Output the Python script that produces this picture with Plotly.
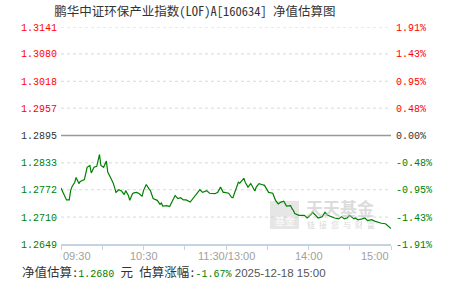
import plotly.graph_objects as go

# ---- data ----
minutes = [0, 4, 6, 7, 8, 10, 11, 13, 14, 17, 19, 21, 22, 24, 26, 28, 29, 31, 33, 34,
           36, 38, 40, 42, 44, 46, 47, 49, 50, 52, 53, 55, 57, 59, 60, 62, 64, 65, 67, 70,
           72, 73, 74, 77, 79, 81, 83, 85, 87, 89, 91, 94, 96, 99, 101, 103, 106, 108, 112, 114,
           116, 118, 119, 122, 124, 125, 127, 129, 130, 133, 134, 136, 138, 141, 142, 144, 146, 148, 151, 154,
           156, 158, 160, 162, 164, 167, 168, 169, 170, 173, 176, 177, 179, 182, 183, 185, 187, 190, 192, 194,
           197, 199, 202, 204, 206, 208, 210, 213, 214, 216, 219, 221, 223, 226, 228, 231, 233, 236, 238, 240]
nav = [1.2776, 1.2749, 1.2749, 1.2770, 1.2779, 1.2789, 1.2800, 1.2786, 1.2791, 1.2795,
       1.2823, 1.2827, 1.2810, 1.2823, 1.2825, 1.2852, 1.2827, 1.2823, 1.2837, 1.2812,
       1.2800, 1.2787, 1.2766, 1.2772, 1.2769, 1.2761, 1.2770, 1.2759, 1.2748, 1.2763,
       1.2765, 1.2766, 1.2763, 1.2757, 1.2770, 1.2784, 1.2774, 1.2770, 1.2752, 1.2748,
       1.2739, 1.2742, 1.2735, 1.2736, 1.2734, 1.2746, 1.2759, 1.2752, 1.2754, 1.2749,
       1.2749, 1.2744, 1.2752, 1.2763, 1.2772, 1.2766, 1.2770, 1.2764, 1.2763, 1.2766,
       1.2778, 1.2766, 1.2766, 1.2764, 1.2755, 1.2754, 1.2774, 1.2789, 1.2787, 1.2798,
       1.2789, 1.2778, 1.2786, 1.2769, 1.2778, 1.2786, 1.2784, 1.2782, 1.2766, 1.2764,
       1.2748, 1.2740, 1.2744, 1.2746, 1.2735, 1.2736, 1.2729, 1.2725, 1.2718, 1.2714,
       1.2714, 1.2714, 1.2708, 1.2716, 1.2721, 1.2714, 1.2708, 1.2711, 1.2721, 1.2714,
       1.2710, 1.2708, 1.2706, 1.2711, 1.2706, 1.2708, 1.2714, 1.2706, 1.2708, 1.2704,
       1.2706, 1.2708, 1.2702, 1.2704, 1.2701, 1.2698, 1.2696, 1.2695, 1.2689, 1.2684]

left_ticks = [1.3141, 1.3080, 1.3018, 1.2957, 1.2895, 1.2833, 1.2772, 1.2710, 1.2649]
right_labels = ["1.91%", "1.43%", "0.95%", "0.48%", "0.00%", "-0.48%", "-0.95%", "-1.43%", "-1.91%"]
base_nav = 1.2895
x_tick_minutes = [0, 30, 60, 90, 120, 150, 180, 210, 240]
x_label_minutes = [0, 60, 120, 180, 240]
x_labels = ["09:30", "10:30", "11:30/13:00", "14:00", "15:00"]

title_text = "鹏华中证环保产业指数(LOF)A[160634] 净值估算图"
est_nav = "1.2680"
est_chg = "-1.67%"
est_time = "2025-12-18 15:00"

RED = "#ff0000"
GREEN = "#008000"
DARK = "#333333"


def col(v):
    if v > base_nav + 1e-9:
        return RED
    if v < base_nav - 1e-9:
        return GREEN
    return DARK


left_text = [f"<span style='color:{col(v)}'>{v:.4f}</span>" for v in left_ticks]
right_text = [f"<span style='color:{col(v)}'>{t}</span>" for v, t in zip(left_ticks, right_labels)]

ymin, ymax = min(left_ticks), max(left_ticks)

fig = go.Figure()
fig.add_trace(go.Scatter(x=minutes, y=nav, mode="lines",
                         line=dict(color=GREEN, width=1.2), hoverinfo="skip",
                         showlegend=False))
# invisible trace to activate the right axis
fig.add_trace(go.Scatter(x=[minutes[0]], y=[nav[0]], yaxis="y2", mode="lines",
                         line=dict(width=0), showlegend=False, hoverinfo="skip"))

# dotted gridlines and solid base line
for v in left_ticks[:-1]:
    if abs(v - base_nav) < 1e-9:
        fig.add_shape(type="line", xref="paper", x0=0, x1=1, yref="y", y0=v, y1=v,
                      line=dict(color="#999999", width=1.5), layer="below")
    else:
        fig.add_shape(type="line", xref="paper", x0=0, x1=1, yref="y", y0=v, y1=v,
                      line=dict(color="#d8d8d8", width=1, dash="dot"), layer="below")

mono = "Liberation Mono, DejaVu Sans Mono, monospace"
cjk = "Noto Sans Mono CJK SC, Noto Sans CJK SC, sans-serif"

fig.update_layout(
    width=451, height=281,
    margin=dict(l=61, r=60, t=27, b=37),
    paper_bgcolor="white", plot_bgcolor="white",
    xaxis=dict(range=[0, 240], tickvals=x_tick_minutes, ticktext=[""] * len(x_tick_minutes),
               ticks="outside", ticklen=4, tickcolor="#c5d2df", showgrid=False,
               showline=True, linecolor="#c5d2df", linewidth=1.5, zeroline=False,
               fixedrange=True),
    yaxis=dict(range=[ymin, ymax], tickvals=left_ticks, ticktext=left_text,
               showgrid=False, zeroline=False, ticks="", ticklabelstandoff=3,
               tickfont=dict(family=mono, size=10, color=DARK)),
    yaxis2=dict(range=[ymin, ymax], overlaying="y", side="right", tickvals=left_ticks,
                ticktext=right_text, showgrid=False, zeroline=False, ticks="",
                ticklabelstandoff=4,
                tickfont=dict(family=mono, size=10, color=DARK)),
    title=dict(text=title_text, x=195 / 451, xanchor="center", y=1 - 12 / 281,
               yanchor="middle", font=dict(family=cjk, size=12.5, color=DARK)),
)

# x-axis labels
anchors = ["left", "center", "center", "center", "right"]
for m, t, a in zip(x_label_minutes, x_labels, anchors):
    fig.add_annotation(x=m, xref="x", y=-12 / 217, yref="paper", text=t, showarrow=False,
                       xanchor=a, yanchor="middle",
                       font=dict(family="Liberation Sans, Arial, sans-serif", size=11,
                                 color="#a0a0a0"))

# bottom info line
info = (f"净值估算:<span style='color:{GREEN};font-family:Liberation Mono;font-size:10px'>{est_nav}</span> 元 "
        f"估算涨幅:<span style='color:{GREEN};font-family:Liberation Mono;font-size:10px'>{est_chg}</span>"
        f"<span style='color:#555555;font-family:Liberation Sans;font-size:11.5px'> {est_time}</span>")
fig.add_annotation(x=-41 / 330, xref="paper", y=-27 / 217, yref="paper", text=info,
                   showarrow=False, xanchor="left", yanchor="middle",
                   font=dict(family=cjk, size=12.5, color=DARK))

# watermark
fig.add_shape(type="rect", xref="paper", yref="paper",
              x0=(270 - 61) / 330, x1=(299 - 61) / 330,
              y0=(244 - 229) / 217, y1=(244 - 201) / 217,
              fillcolor="rgba(200,200,200,0.45)", line=dict(width=0), layer="below")
fig.add_annotation(x=(284.5 - 61) / 330, xref="paper", y=(244 - 220) / 217, yref="paper",
                   text="基金", showarrow=False, xanchor="center", yanchor="middle",
                   font=dict(family=cjk, size=10, color="rgba(255,255,255,0.9)"))
fig.add_annotation(x=(304 - 61) / 330, xref="paper", y=(244 - 207) / 217, yref="paper",
                   text="<b>天天基金</b>", showarrow=False, xanchor="left", yanchor="middle",
                   font=dict(family=cjk, size=17, color="rgba(190,190,190,0.55)"))
fig.add_annotation(x=(305 - 61) / 330, xref="paper", y=(244 - 224.5) / 217, yref="paper",
                   text="链 接 您 与 财 富", showarrow=False, xanchor="left", yanchor="middle",
                   font=dict(family=cjk, size=8, color="rgba(190,190,190,0.6)"))

fig.write_html("out.html")
